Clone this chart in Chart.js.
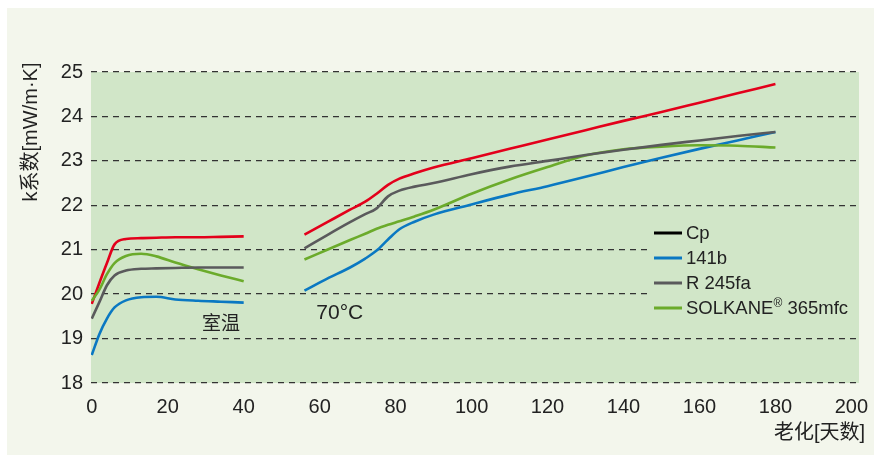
<!DOCTYPE html>
<html><head><meta charset="utf-8">
<script src="https://cdn.jsdelivr.net/npm/chart.js@4/dist/chart.umd.min.js"></script>
<style>html,body{margin:0;padding:0;background:#fff;}#wrap{width:874px;height:455px;}</style>
</head><body><div id="wrap"><canvas id="c" width="874" height="455"></canvas></div>
<script>
// ---- data ----
const seriesNames = ['Cp', '141b', 'R 245fa', 'SOLKANE® 365mfc'];
const roomDays = [0, 2, 4, 6, 9, 13, 17, 22, 28, 34, 40];
const hotDays  = [56, 62, 68, 72, 75, 78, 81, 85, 90, 100, 110, 120, 130, 140, 150, 160, 170, 180];

const cpRoom   = [19.78, 20.25, 20.70, 21.12, 21.24, 21.26, 21.27, 21.28, 21.28, 21.29, 21.30];
const b141Room = [18.63, 19.10, 19.45, 19.70, 19.86, 19.93, 19.94, 19.88, 19.85, 19.83, 19.81];
const r245Room = [19.45, 19.82, 20.20, 20.42, 20.53, 20.57, 20.58, 20.59, 20.60, 20.60, 20.60];
const solRoom  = [19.85, 20.10, 20.45, 20.70, 20.86, 20.91, 20.85, 20.71, 20.56, 20.42, 20.29];

const cpHot   = [21.34, 21.62, 21.90, 22.08, 22.26, 22.46, 22.60, 22.72, 22.85, 23.06, 23.27, 23.48, 23.69, 23.90, 24.10, 24.31, 24.52, 24.73];
const b141Hot = [20.08, 20.35, 20.60, 20.80, 20.98, 21.23, 21.46, 21.63, 21.79, 22.02, 22.24, 22.43, 22.64, 22.86, 23.07, 23.27, 23.46, 23.65];
const r245Hot = [21.03, 21.33, 21.62, 21.80, 21.93, 22.20, 22.33, 22.42, 22.50, 22.70, 22.87, 23.00, 23.13, 23.25, 23.36, 23.46, 23.56, 23.65];
const solHot  = [20.78, 21.00, 21.22, 21.36, 21.47, 21.56, 21.64, 21.75, 21.90, 22.26, 22.58, 22.86, 23.12, 23.26, 23.32, 23.35, 23.34, 23.30];

const xTicks = [0, 20, 40, 60, 80, 100, 120, 140, 160, 180, 200];
const yTicks = [18, 19, 20, 21, 22, 23, 24, 25];
const xTitle = '老化[天数]';
const yTitle = 'k系数[mW/m·K]';
const roomLabel = '室温';
const hotLabel = '70°C';

// ---- styles ----
const lineColors   = ['#e3001b', '#0a78c2', '#5a5a5c', '#6bab2b'];
const legendColors = ['#000000', '#0a78c2', '#5a5a5c', '#6bab2b'];
const PLOT_BG = '#d1e6c8';
const PANEL_BG = '#f3f6ec';
const LATIN = '"Liberation Sans", "Noto Sans CJK SC", sans-serif';
const CJK = '"Noto Sans CJK SC", "Liberation Sans", sans-serif';

function build(room, hot) {
  const pts = roomDays.map((d, i) => ({x: d, y: room[i]}));
  pts.push({x: 48, y: null});
  hotDays.forEach((d, i) => pts.push({x: d, y: hot[i]}));
  return pts;
}
const allRoom = [cpRoom, b141Room, r245Room, solRoom];
const allHot = [cpHot, b141Hot, r245Hot, solHot];
// draw order: gray, green, blue, red on top
const order = [2, 3, 1, 0];
const datasets = order.map(i => ({
  label: seriesNames[i],
  data: build(allRoom[i], allHot[i]),
  borderColor: lineColors[i],
  borderWidth: 2.6,
  pointRadius: 0,
  fill: false,
  spanGaps: false,
  cubicInterpolationMode: 'monotone'
}));

const decor = {
  id: 'decor',
  beforeDraw(chart) {
    const ctx = chart.ctx, a = chart.chartArea;
    ctx.save();
    ctx.fillStyle = '#ffffff';
    ctx.fillRect(0, 0, chart.width, chart.height);
    ctx.fillStyle = PANEL_BG;
    ctx.fillRect(7, 8, chart.width - 7, chart.height - 8);
    ctx.fillStyle = PLOT_BG;
    ctx.fillRect(a.left, a.top, a.right - a.left, a.bottom - a.top);
    ctx.restore();
  },
  beforeDatasetsDraw(chart) {
    const ctx = chart.ctx, a = chart.chartArea;
    ctx.save();
    ctx.fillStyle = PLOT_BG;
    ctx.fillRect(650, 222, a.right - 650, 96);
    ctx.restore();
  },
  afterDraw(chart) {
    const ctx = chart.ctx, xs = chart.scales.x, ys = chart.scales.y;
    ctx.save();
    ctx.fillStyle = '#222';
    // y title
    ctx.save();
    ctx.translate(31, 132);
    ctx.rotate(-Math.PI / 2);
    ctx.font = '20px ' + LATIN;
    ctx.textAlign = 'center';
    ctx.textBaseline = 'middle';
    ctx.fillText(yTitle, 0, 0);
    ctx.restore();
    // x title
    ctx.font = '20px ' + LATIN;
    ctx.textAlign = 'right';
    ctx.textBaseline = 'middle';
    ctx.fillText(xTitle, 865, 433);
    // annotations
    ctx.textAlign = 'center';
    ctx.font = '19px ' + CJK;
    ctx.fillText(roomLabel, xs.getPixelForValue(34), ys.getPixelForValue(19.36));
    ctx.font = '21px ' + LATIN;
    ctx.fillText(hotLabel, xs.getPixelForValue(65.3), ys.getPixelForValue(19.57));
    // legend
    ctx.textAlign = 'left';
    for (let i = 0; i < seriesNames.length; i++) {
      const y = 233 + i * 25;
      ctx.strokeStyle = legendColors[i];
      ctx.lineWidth = 3;
      ctx.beginPath();
      ctx.moveTo(654, y);
      ctx.lineTo(682, y);
      ctx.stroke();
      ctx.fillStyle = '#222';
      ctx.font = '18.5px ' + LATIN;
      const name = seriesNames[i];
      const k = name.indexOf('®');
      if (k < 0) {
        ctx.fillText(name, 686, y + 1);
      } else {
        const a = name.slice(0, k), b = name.slice(k + 1);
        ctx.fillText(a, 686, y + 1);
        let w = ctx.measureText(a).width;
        ctx.font = '12px ' + LATIN;
        ctx.fillText('®', 686 + w, y - 4);
        w += ctx.measureText('®').width;
        ctx.font = '18.5px ' + LATIN;
        ctx.fillText(b, 686 + w, y + 1);
      }
    }
    ctx.restore();
  }
};

new Chart(document.getElementById('c'), {
  type: 'line',
  data: {datasets},
  options: {
    responsive: false,
    animation: false,
    layout: {padding: {left: 0, top: 72, right: 15, bottom: 0}},
    plugins: {legend: {display: false}, tooltip: {enabled: false}},
    scales: {
      x: {
        type: 'linear',
        min: -0.2, max: 202,
        afterBuildTicks: s => { s.ticks = xTicks.map(v => ({value: v})); },
        afterFit: s => { s.height = 72; s.paddingLeft = 0; s.paddingRight = 0; },
        grid: {display: false},
        border: {display: false},
        ticks: {color: '#222', font: {family: LATIN, size: 20}, padding: 4, maxRotation: 0, autoSkip: false}
      },
      y: {
        min: 18, max: 25,
        afterBuildTicks: s => { s.ticks = yTicks.map(v => ({value: v})); },
        afterFit: s => { s.width = 91; s.paddingTop = 0; s.paddingBottom = 0; },
        grid: {color: '#333', lineWidth: 1.3, drawTicks: false},
        border: {display: false, dash: [6, 5]},
        ticks: {color: '#222', font: {family: LATIN, size: 20}, padding: 8}
      }
    }
  },
  plugins: [decor]
});
</script>
</body></html>
